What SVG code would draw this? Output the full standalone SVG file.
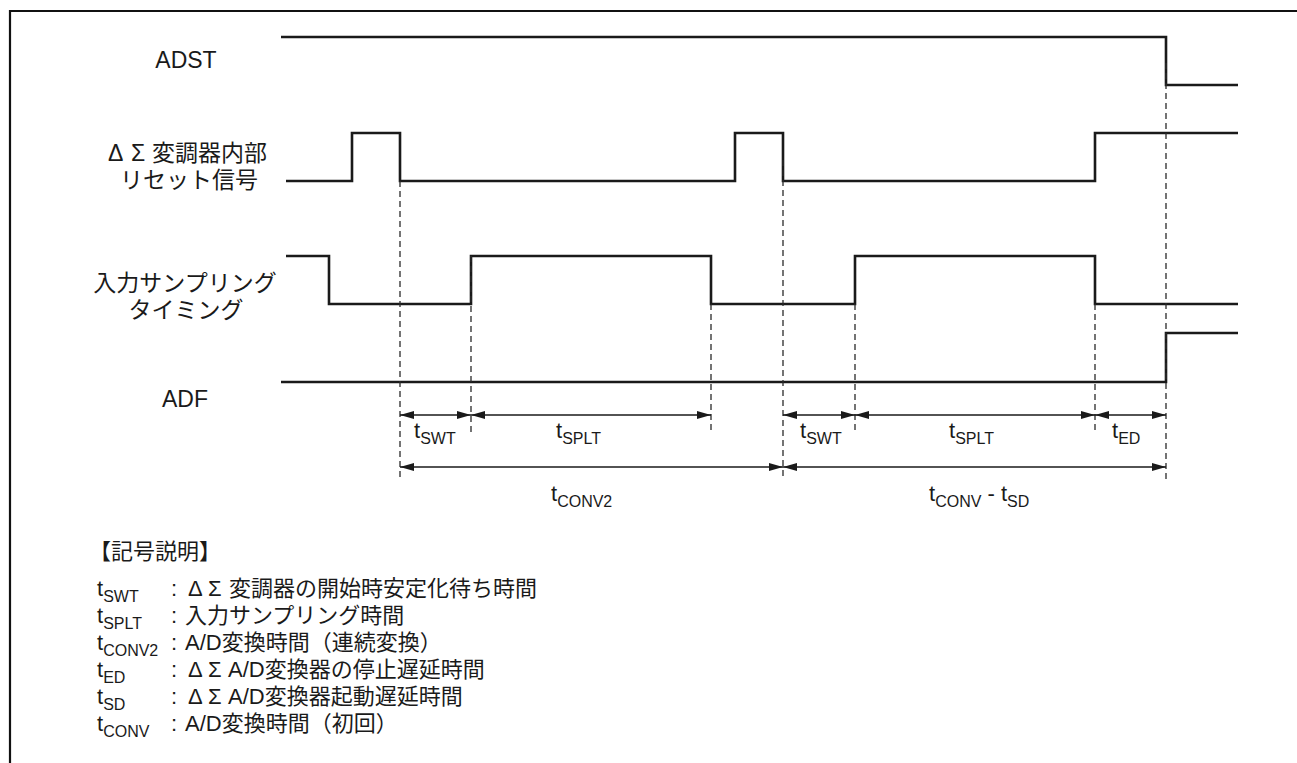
<svg xmlns="http://www.w3.org/2000/svg" width="1297" height="763" viewBox="0 0 1297 763">
<style>
.lbl{font-family:"Liberation Sans","Noto Sans CJK JP",sans-serif;font-size:23px;fill:#1a1a1a}
.tm{font-family:"Liberation Sans",Arial,sans-serif;font-size:22px;fill:#1a1a1a}
.sub{font-size:16px}
.jp{font-family:"Liberation Sans","Noto Sans CJK JP",sans-serif;font-size:22px;fill:#1a1a1a}
.sig{fill:none;stroke:#1a1a1a;stroke-width:2.6;stroke-linejoin:miter}
.dash{fill:none;stroke:#2a2a2a;stroke-width:1.3;stroke-dasharray:6 4}
.arr{fill:none;stroke:#1a1a1a;stroke-width:1.4;marker-start:url(#ah);marker-end:url(#ah)}
.frame{fill:none;stroke:#111;stroke-width:2.2}
</style>
<defs>
<marker id="ah" markerUnits="userSpaceOnUse" markerWidth="14" markerHeight="9" refX="14" refY="4.5" orient="auto-start-reverse">
<path d="M0,0.5 L14,4.5 L0,8.5 z" fill="#1a1a1a"/>
</marker>
</defs>
<rect width="1297" height="763" fill="#fff"/>
<path class="frame" d="M10,763 V11 H1297"/>

<g id="adst">
<text class="lbl" x="186" y="68" text-anchor="middle">ADST</text>
<path class="sig" d="M281,37 H1166 V85 H1238"/>
</g>

<g id="reset">
<text class="lbl" x="108 131 152" y="161">ΔΣ変調器内部</text>
<text class="lbl" x="189" y="188" text-anchor="middle">リセット信号</text>
<path class="sig" d="M286,181 H352 V133 H400 V181 H735 V133 H783 V181 H1095 V133 H1238"/>
</g>

<g id="sampling">
<text class="lbl" x="185" y="291" text-anchor="middle">入力サンプリング</text>
<text class="lbl" x="186" y="318" text-anchor="middle">タイミング</text>
<path class="sig" d="M286,256 H329 V304 H471 V256 H711 V304 H855 V256 H1095 V304 H1238"/>
</g>

<g id="adf">
<text class="lbl" x="185" y="407" text-anchor="middle">ADF</text>
<path class="sig" d="M281,382 H1166 V333 H1238"/>
</g>

<g id="connectors">
<path class="dash" d="M400,181 V480 M471,256 V432 M711,304 V432 M783,160 V480 M855,304 V432 M1095,304 V432 M1166,63 V480"/>
<path class="arr" d="M400,415 H471"/>
<path class="arr" d="M471,415 H711"/>
<path class="arr" d="M783,415 H855"/>
<path class="arr" d="M855,415 H1095"/>
<path class="arr" d="M1095,415 H1166"/>
<path class="arr" d="M400,467 H783"/>
<path class="arr" d="M783,467 H1166"/>
</g>

<g id="timing-labels">
<text class="tm" x="414" y="438">t<tspan class="sub" dy="6">SWT</tspan></text>
<text class="tm" x="556" y="438">t<tspan class="sub" dy="6">SPLT</tspan></text>
<text class="tm" x="800" y="438">t<tspan class="sub" dy="6">SWT</tspan></text>
<text class="tm" x="949" y="438">t<tspan class="sub" dy="6">SPLT</tspan></text>
<text class="tm" x="1112" y="438">t<tspan class="sub" dy="6">ED</tspan></text>
<text class="tm" x="551" y="501">t<tspan class="sub" dy="6">CONV2</tspan></text>
<text class="tm" x="929" y="501">t<tspan class="sub" dy="6">CONV</tspan><tspan dy="-6"> - t</tspan><tspan class="sub" dy="6">SD</tspan></text>
</g>

<g id="legend">
<text class="jp" x="89" y="559">【記号説明】</text>
<text class="tm" x="97" y="596">t<tspan class="sub" dy="6">SWT</tspan></text>
<text class="tm" x="171" y="596">:</text>
<text class="jp" x="188 208 229" y="596">ΔΣ変調器の開始時安定化待ち時間</text>
<text class="tm" x="97" y="623">t<tspan class="sub" dy="6">SPLT</tspan></text>
<text class="tm" x="171" y="623">:</text>
<text class="jp" x="185" y="623">入力サンプリング時間</text>
<text class="tm" x="97" y="650">t<tspan class="sub" dy="6">CONV2</tspan></text>
<text class="tm" x="171" y="650">:</text>
<text class="jp" x="185" y="650">A/D変換時間（連続変換）</text>
<text class="tm" x="97" y="677">t<tspan class="sub" dy="6">ED</tspan></text>
<text class="tm" x="171" y="677">:</text>
<text class="jp" x="188 208 228" y="677">ΔΣA/D変換器の停止遅延時間</text>
<text class="tm" x="97" y="704">t<tspan class="sub" dy="6">SD</tspan></text>
<text class="tm" x="171" y="704">:</text>
<text class="jp" x="188 208 228" y="704">ΔΣA/D変換器起動遅延時間</text>
<text class="tm" x="97" y="731">t<tspan class="sub" dy="6">CONV</tspan></text>
<text class="tm" x="171" y="731">:</text>
<text class="jp" x="185" y="731">A/D変換時間（初回）</text>
</g>
</svg>
